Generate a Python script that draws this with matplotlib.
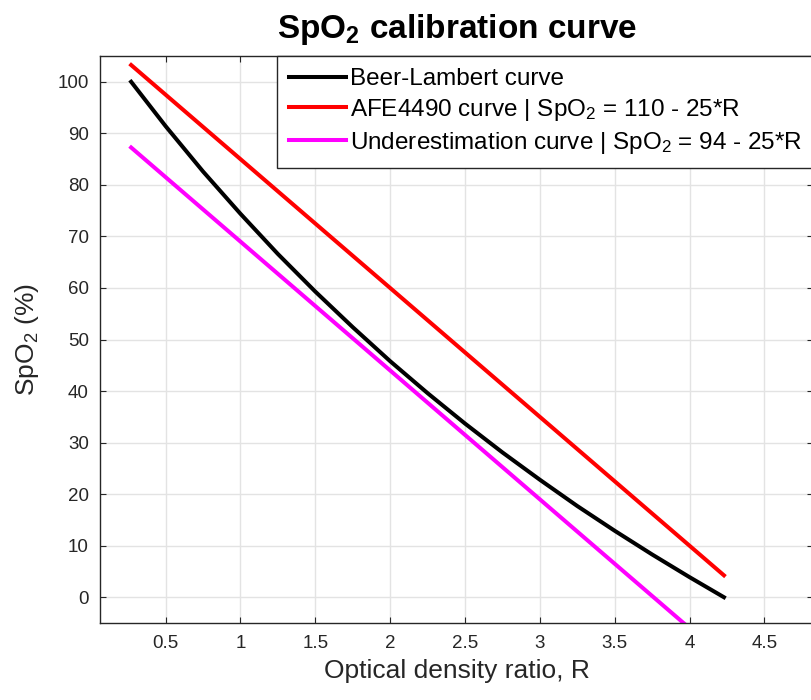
import matplotlib
matplotlib.use("Agg")
import matplotlib.pyplot as plt

plt.rcParams['font.family'] = ['Liberation Sans', 'DejaVu Sans']
plt.rcParams['mathtext.fontset'] = 'custom'
plt.rcParams['mathtext.rm'] = 'Liberation Sans'
plt.rcParams['mathtext.it'] = 'Liberation Sans:italic'
plt.rcParams['mathtext.bf'] = 'Liberation Sans:bold'

# Optical density ratio R and the theoretical Beer-Lambert SpO2 values
r_beer = [0.27, 0.5, 0.75, 1.0, 1.25, 1.5, 1.75, 2.0, 2.25, 2.5, 2.75,
          3.0, 3.25, 3.5, 3.75, 4.0, 4.23]
spo2_beer = [100.0, 91.4, 82.6, 74.4, 66.6, 59.3, 52.4, 45.8, 39.6, 33.7,
             28.1, 22.8, 17.7, 12.9, 8.3, 3.9, 0.0]

# Linear empirical curves (end points over the same R range)
r_lin = [0.27, 4.23]
spo2_afe = [103.25, 4.25]      # SpO2 = 110 - 25*R
spo2_under = [87.25, -11.75]   # SpO2 = 94 - 25*R

x_ticks = [0.5, 1, 1.5, 2, 2.5, 3, 3.5, 4, 4.5]
x_tick_labels = ['0.5', '1', '1.5', '2', '2.5', '3', '3.5', '4', '4.5']
y_ticks = [0, 10, 20, 30, 40, 50, 60, 70, 80, 90, 100]

W, H = 812, 700
fig = plt.figure(figsize=(W / 100, H / 100), dpi=100)
left, right, bottom, top = 100, 813, 623, 56
ax = fig.add_axes([left / W, 1 - bottom / H, (right - left) / W, (bottom - top) / H])

lw = 2.9
ax.plot(r_beer, spo2_beer, color='black', lw=lw, label='Beer-Lambert curve')
ax.plot(r_lin, spo2_afe, color=(1, 0, 0), lw=lw,
        label=r'AFE4490 curve | SpO$_2$ = 110 - 25*R')
ax.plot(r_lin, spo2_under, color=(1, 0, 1), lw=lw,
        label=r'Underestimation curve | SpO$_2$ = 94 - 25*R')

ax.set_xlim(0.062, 4.825)
ax.set_ylim(-5, 105)
ax.set_xticks(x_ticks)
ax.set_xticklabels(x_tick_labels)
ax.set_yticks(y_ticks)

ax.grid(True, color='#e3e3e3', lw=1.0)
ax.set_axisbelow(True)
for s in ax.spines.values():
    s.set_color('#262626')
    s.set_linewidth(1.0)
ax.tick_params(direction='in', length=4, width=0.8, color='#262626',
               top=True, right=True, labelsize=13.5, labelcolor='#262626')
ax.tick_params(axis='x', pad=9)
ax.tick_params(axis='y', pad=8)

ax.set_xlabel('Optical density ratio, R', fontsize=19, color='#262626', labelpad=5)
ax.set_ylabel(r'SpO$_2$ (%)', fontsize=19, color='#262626', labelpad=12)
ax.set_title(r'SpO$_\mathbf{2}$ calibration curve', fontsize=24, fontweight='bold',
             pad=13)

leg = ax.legend(loc='upper left', bbox_to_anchor=(277 / W, 1 - 56 / H),
                bbox_transform=fig.transFigure, borderaxespad=0,
                fontsize=17.5, handlelength=2.35, handletextpad=0.15,
                labelspacing=0.28, borderpad=0.5, fancybox=False,
                framealpha=1, edgecolor='#262626')
leg.get_frame().set_linewidth(1.0)

fig.savefig('out.png', dpi=100)
